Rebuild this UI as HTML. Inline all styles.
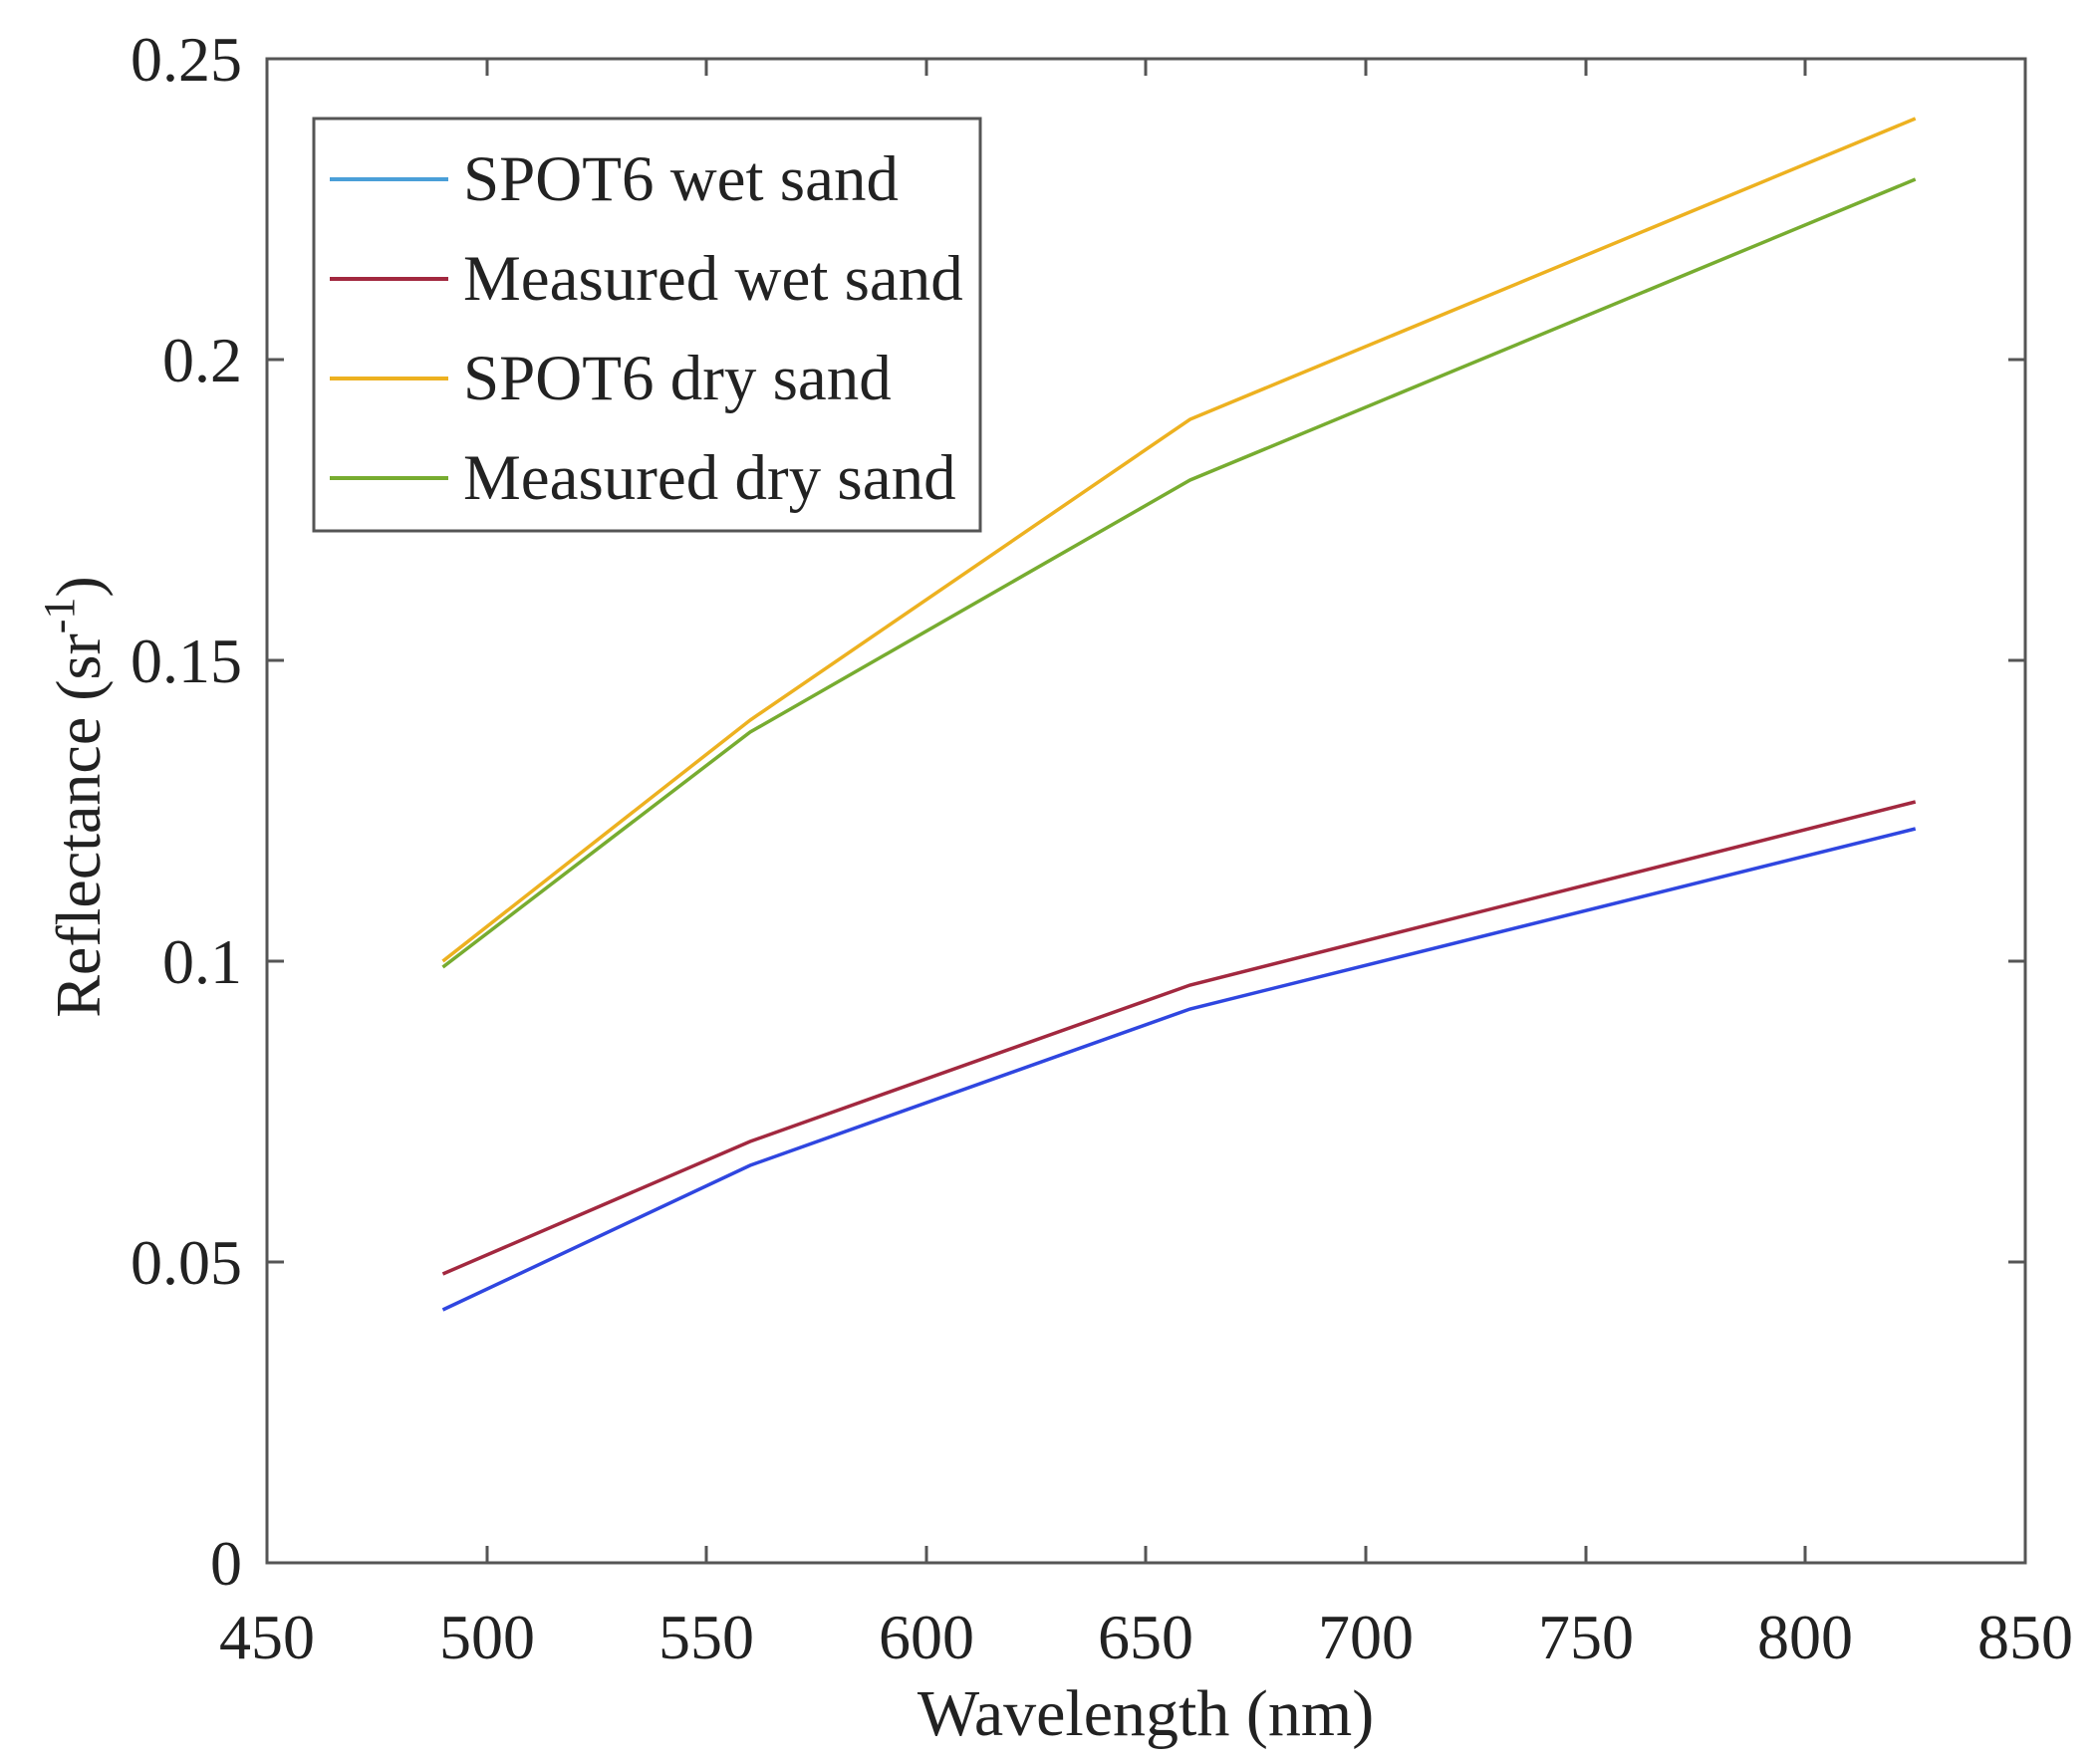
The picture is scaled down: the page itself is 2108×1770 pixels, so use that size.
<!DOCTYPE html>
<html><head><meta charset="utf-8"><style>
html,body{margin:0;padding:0;background:#fff;}
svg text{font-family:"Liberation Serif",serif;fill:#222;}
</style></head><body>
<svg width="2108" height="1765" viewBox="0 0 2108 1765" xmlns="http://www.w3.org/2000/svg">
<rect width="2108" height="1765" fill="#fff"/>
<g stroke="#555" stroke-width="3" fill="none">
<rect x="268" y="59" width="1765" height="1510"/>
<path d="M489 1569v-17M709 1569v-17M930 1569v-17M1150 1569v-17M1371 1569v-17M1592 1569v-17M1812 1569v-17
M489 59v17M709 59v17M930 59v17M1150 59v17M1371 59v17M1592 59v17M1812 59v17
M268 1267h17M268 965h17M268 663h17M268 361h17
M2033 1267h-17M2033 965h-17M2033 663h-17M2033 361h-17"/>
</g>
<g font-size="64" text-anchor="end">
<text x="243" y="1591">0</text>
<text x="243" y="1289">0.05</text>
<text x="243" y="987">0.1</text>
<text x="243" y="685">0.15</text>
<text x="243" y="383">0.2</text>
<text x="243" y="81">0.25</text>
</g>
<g font-size="64" text-anchor="middle">
<text x="268" y="1665">450</text>
<text x="489" y="1665">500</text>
<text x="709" y="1665">550</text>
<text x="930" y="1665">600</text>
<text x="1150" y="1665">650</text>
<text x="1371" y="1665">700</text>
<text x="1592" y="1665">750</text>
<text x="1812" y="1665">800</text>
<text x="2033" y="1665">850</text>
<text x="1150" y="1742" font-size="66">Wavelength (nm)</text>
</g>
<text font-size="64" text-anchor="middle" transform="translate(100,800) rotate(-90)">Reflectance (sr<tspan dy="-26" font-size="44">-1</tspan><tspan dy="26">)</tspan></text>
<g fill="none" stroke-width="3.5">
<polyline stroke="#2f46e0" points="444.5,1315 753,1170 1194.6,1013 1922.7,832"/>
<polyline stroke="#a2283f" points="444.5,1279 753,1146 1194.6,989 1922.7,805"/>
<polyline stroke="#edb120" points="444.5,965 753,723 1194.6,421 1922.7,119"/>
<polyline stroke="#77ac30" points="444.5,971 753,735 1194.6,482 1922.7,180"/>
</g>
<rect x="315" y="119" width="669" height="414" fill="#fff" stroke="#555" stroke-width="3"/>
<g stroke-width="4">
<line x1="331" y1="180" x2="450" y2="180" stroke="#4a9fd8"/>
<line x1="331" y1="280" x2="450" y2="280" stroke="#a2283f"/>
<line x1="331" y1="380" x2="450" y2="380" stroke="#edb120"/>
<line x1="331" y1="480" x2="450" y2="480" stroke="#77ac30"/>
</g>
<g font-size="65">
<text x="465" y="201">SPOT6 wet sand</text>
<text x="465" y="301">Measured wet sand</text>
<text x="465" y="401">SPOT6 dry sand</text>
<text x="465" y="501">Measured dry sand</text>
</g>
</svg>
</body></html>
